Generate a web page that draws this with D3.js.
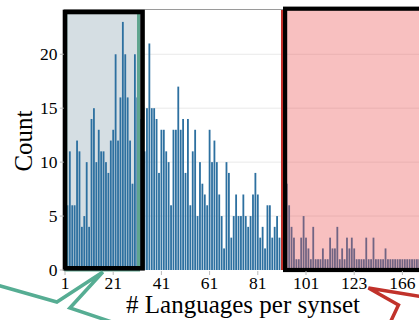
<!DOCTYPE html>
<html lang="en">
<head>
  <meta charset="UTF-8" />
  <title>Languages per synset</title>
  <script src="https://d3js.org/d3.v7.min.js"></script>
  <style>
    body { margin: 0; overflow: hidden; background: #fff; }
    svg { display: block; font-family: "Liberation Serif", "Times New Roman", serif; }
  </style>
</head>
<body>
<svg width="419" height="320"></svg>
<script>
  // categories: number of languages per synset (only the values that occur)
  const denseLangs = d3.range(1, 102);
  const sparseLangs = [102, 103, 104, 105, 106, 107, 108, 109, 110, 111, 112, 113, 114, 115, 116, 118, 119, 121, 122, 123,
                       124, 126, 128, 130, 132, 134, 136, 138, 140, 142, 144, 146, 148, 150, 153, 155, 158, 160, 163, 166,
                       168, 171, 175, 179, 184, 190, 197, 205, 214];
  const langs = denseLangs.concat(sparseLangs);

  // number of synsets for each category
  const counts = [
    5, 6, 11, 6, 6, 12, 11, 4, 5, 10,
    4, 14, 15, 10, 13, 11, 11, 10, 9, 12,
    13, 20, 12, 16, 23, 20, 16, 12, 8, 20,
    16, 14, 10, 11, 15, 21, 15, 15, 14, 9,
    13, 13, 11, 10, 6, 13, 13, 17, 13, 14,
    9, 14, 6, 11, 13, 5, 10, 8, 7, 6,
    13, 10, 12, 10, 7, 5, 2, 10, 9, 3,
    5, 7, 5, 5, 7, 5, 4, 5, 7, 9,
    7, 3, 4, 2, 6, 6, 3, 4, 5, 3,
    2, 4, 8, 6, 4, 3, 1, 1, 3, 5,
    3, 2, 1, 4, 1, 1, 1, 2, 1, 1,
    3, 2, 2, 4, 1, 2, 1, 3, 2, 3,
    2, 1, 1, 1, 1, 3, 1, 1, 3, 1,
    1, 1, 1, 2, 1, 1, 1, 1, 1, 1,
    1, 1, 1, 1, 1, 1, 1, 1, 1, 1
  ];
  const data = langs.map((l, i) => ({ lang: l, count: counts[i] }));

  const yTicks = [0, 5, 10, 15, 20];
  const xTickLabels = [1, 21, 41, 61, 81, 101, 123, 166];

  // highlighted ranges (by category)
  const lowStart = 1, lowEnd = 33;   // few languages
  const highStart = 92;              // many languages (to the end)

  const svg = d3.select("svg");
  const plotLeft = 63.8, plotTop = 9.5, plotBottom = 270, bw = 2.41;

  const x = d3.scaleBand()
    .domain(langs)
    .range([plotLeft, plotLeft + langs.length * bw])
    .padding(0);
  const y = d3.scaleLinear().domain([0, 24.15]).range([plotBottom, plotTop]);
  const plotRight = x.range()[1];

  // grid
  svg.selectAll(".grid")
    .data(yTicks.slice(1))
    .enter().append("line")
    .attr("x1", plotLeft).attr("x2", plotRight)
    .attr("y1", d => y(d)).attr("y2", d => y(d))
    .attr("stroke", "#e9e9e9").attr("stroke-width", 1);

  // light box behind the first bars
  const lowX0 = x(lowStart), lowX1 = x(langs[lowEnd]) - 0.8;
  svg.append("rect")
    .attr("x", lowX0).attr("y", plotTop)
    .attr("width", lowX1 - lowX0).attr("height", plotBottom - plotTop)
    .attr("fill", "#d5dee3");

  // bars
  svg.selectAll(".bar")
    .data(data)
    .enter().append("rect")
    .attr("class", "bar")
    .attr("x", d => x(d.lang) + 0.3)
    .attr("width", x.bandwidth() - 0.6)
    .attr("y", d => y(d.count))
    .attr("height", d => y(0) - y(d.count))
    .attr("fill", "#2d70a0");

  // teal highlight edge
  svg.append("rect")
    .attr("x", lowX0 + 2).attr("y", plotTop + 3)
    .attr("width", x(langs[lowEnd - 2]) - lowX0 - 2)
    .attr("height", plotBottom - plotTop - 3)
    .attr("fill", "none")
    .attr("stroke", "#5fa58f").attr("stroke-width", 3);

  // pink overlay on the long tail
  const highX0 = x(langs[highStart - 2]) + 1.5;
  svg.append("rect")
    .attr("x", highX0).attr("y", plotTop)
    .attr("width", plotRight + 20 - highX0).attr("height", plotBottom - plotTop)
    .attr("fill", "#ec4f4f").attr("fill-opacity", 0.36);
  svg.append("line")
    .attr("x1", highX0).attr("x2", highX0)
    .attr("y1", plotTop).attr("y2", plotBottom)
    .attr("stroke", "#c0302a").attr("stroke-width", 2.4);

  // plot top border
  svg.append("line")
    .attr("x1", plotLeft).attr("x2", plotRight)
    .attr("y1", plotTop).attr("y2", plotTop)
    .attr("stroke", "#9a9a9a").attr("stroke-width", 1.2);

  // black frames
  svg.append("rect")
    .attr("x", lowX0 + 1.2).attr("y", 12)
    .attr("width", lowX1 - lowX0 - 1.2).attr("height", 256.3)
    .attr("fill", "none").attr("stroke", "#000").attr("stroke-width", 4.6);
  const hbX0 = x(langs[highStart - 1]) + 2;
  svg.append("rect")
    .attr("x", hbX0).attr("y", 8.7)
    .attr("width", plotRight + 20 - hbX0).attr("height", 261.3)
    .attr("fill", "none").attr("stroke", "#000").attr("stroke-width", 4.2);

  // y axis
  const yAxis = svg.append("g");
  yAxis.selectAll("line")
    .data(yTicks).enter().append("line")
    .attr("x1", plotLeft - 4).attr("x2", plotLeft)
    .attr("y1", d => y(d)).attr("y2", d => y(d))
    .attr("stroke", "#bbb");
  yAxis.selectAll("text")
    .data(yTicks).enter().append("text")
    .attr("x", 57.5).attr("y", d => y(d))
    .attr("dy", "0.35em")
    .attr("text-anchor", "end")
    .style("font-size", "17.5px")
    .text(d => d);

  // x axis
  const xAxis = svg.append("g");
  xAxis.selectAll("line")
    .data(xTickLabels).enter().append("line")
    .attr("x1", d => x(d) + bw / 2).attr("x2", d => x(d) + bw / 2)
    .attr("y1", plotBottom + 1).attr("y2", plotBottom + 5)
    .attr("stroke", "#bbb");
  xAxis.selectAll("text")
    .data(xTickLabels).enter().append("text")
    .attr("x", d => x(d) + bw / 2).attr("y", 288.5)
    .attr("text-anchor", "middle")
    .style("font-size", "17.5px")
    .text(d => d);

  // axis titles
  svg.append("text")
    .attr("transform", "translate(32,141) rotate(-90)")
    .attr("text-anchor", "middle")
    .style("font-size", "25px")
    .text("Count");
  svg.append("text")
    .attr("x", 243).attr("y", 313)
    .attr("text-anchor", "middle")
    .style("font-size", "25px")
    .text("# Languages per synset");

  // speech-bubble callouts pointing at the axis
  const line = d3.line();
  const tealTip = [x(17) + 0.5, plotBottom + 2];
  svg.append("path")
    .attr("d", line([[tealTip[0] - 106, tealTip[1] + 13], [tealTip[0] - 46, tealTip[1] + 30], tealTip,
                     [tealTip[0] - 33, tealTip[1] + 36], [tealTip[0] + 9, tealTip[1] + 50]]))
    .attr("fill", "none").attr("stroke", "#56ad93").attr("stroke-width", 3.5)
    .attr("stroke-linejoin", "miter");
  const redTip = [x(langs[126]) + 1, plotBottom + 18];
  svg.append("path")
    .attr("d", line([[redTip[0] + 55, redTip[1] + 9], redTip, [redTip[0] + 30, redTip[1] + 17],
                     [redTip[0] + 22, redTip[1] + 34]]))
    .attr("fill", "none").attr("stroke", "#c1322b").attr("stroke-width", 3.5)
    .attr("stroke-linejoin", "miter");
</script>
</body>
</html>
